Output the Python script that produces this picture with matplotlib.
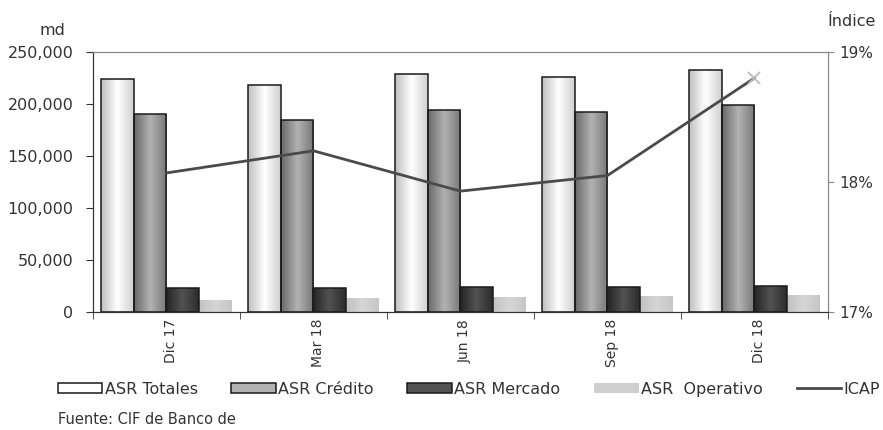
import numpy as np
import matplotlib
matplotlib.use("Agg")
import matplotlib.pyplot as plt
from matplotlib.colors import LinearSegmentedColormap
from matplotlib.ticker import FuncFormatter, FixedLocator
from matplotlib.patches import Patch
from matplotlib.lines import Line2D

plt.rcParams["font.family"] = ["DejaVu Sans"]

# Activos sujetos a riesgo (md) e ICAP por trimestre
periodos = ["Dic 17", "Mar 18", "Jun 18", "Sep 18", "Dic 18"]
asr_totales = [224000, 218000, 229000, 226000, 233000]
asr_credito = [190000, 185000, 194000, 192000, 199000]
asr_mercado = [23000, 23000, 24000, 24000, 25000]
asr_operativo = [12000, 13000, 14000, 15000, 16000]
icap = [18.07, 18.24, 17.93, 18.05, 18.80]

series = [
    ("ASR Totales", asr_totales, ["#c0c0c0", "#ffffff", "#d0d0d0"], "#1a1a1a"),
    ("ASR Crédito", asr_credito, ["#6a6a6a", "#b2b2b2", "#787878"], "#1a1a1a"),
    ("ASR Mercado", asr_mercado, ["#242424", "#525252", "#2c2c2c"], "#1a1a1a"),
    ("ASR  Operativo", asr_operativo, ["#c2c2c2", "#d6d6d6", "#c6c6c6"], "none"),
]

fig = plt.figure(figsize=(8.83, 4.30), dpi=100)
ax = fig.add_axes([0.1053, 0.2744, 0.8324, 0.6046])
ax2 = ax.twinx()

x = np.arange(len(periodos))
w = 0.224
grad = np.linspace(0, 1, 64).reshape(1, -1)

# barras con degradado horizontal recortado a cada rectángulo
for k, (name, vals, cols, edge) in enumerate(series):
    cmap = LinearSegmentedColormap.from_list(name, cols)
    bars = ax.bar(x + (k - 1.5) * w, vals, w, color=cols[1],
                  edgecolor=edge, linewidth=1.1, zorder=3)
    for b in bars:
        x0, y0 = b.get_x(), b.get_y()
        im = ax.imshow(grad, cmap=cmap, aspect="auto", zorder=2.5,
                       extent=(x0, x0 + b.get_width(), y0, y0 + b.get_height()))
        im.set_clip_path(b)
        b.set_facecolor("none")

ax.set_xlim(-0.5, len(periodos) - 0.5)
ax.set_ylim(0, 250000)
ax.set_yticks(np.arange(0, 250001, 50000))
ax.yaxis.set_major_formatter(FuncFormatter(lambda v, p: f"{int(v):,}"))
ax.set_xticks(x + 0.03)
ax.set_xticklabels(periodos, rotation=90, fontsize=10, color="#333333")
ax.xaxis.set_minor_locator(FixedLocator(np.arange(-0.5, len(periodos), 1.0)))
ax.tick_params(axis="x", which="major", length=0, pad=5)
ax.tick_params(axis="x", which="minor", length=5, color="#333333")
ax.tick_params(axis="y", labelsize=11.5, labelcolor="#333333", length=5,
               color="#333333", pad=9)

# ICAP en eje derecho
ax2.plot(x, icap, color="#4a4a4a", linewidth=2.0, zorder=5)
ax2.plot(x[-1:], icap[-1:], linestyle="none", marker="x", markersize=8,
         color="#bdbdbd", markeredgewidth=1.3, zorder=6)
ax2.set_ylim(17, 19)
ax2.set_yticks([17, 18, 19])
ax2.yaxis.set_major_formatter(FuncFormatter(lambda v, p: f"{int(v)}%"))
ax2.tick_params(axis="y", labelsize=11, labelcolor="#333333", length=4,
                color="#888888", pad=4)
ax.set_zorder(1)
ax2.set_zorder(2)
ax2.patch.set_visible(False)

for a in (ax, ax2):
    a.spines["top"].set_color("#888888")
    a.spines["right"].set_color("#888888")
    a.spines["left"].set_color("#333333")
    a.spines["bottom"].set_color("#333333")

fig.text(0.074, 0.918, "md", ha="right", fontsize=11.5, color="#333333")
fig.text(0.965, 0.94, "Índice", ha="center", fontsize=11.5, color="#333333")

handles = [Patch(facecolor=c[1], edgecolor=("#1a1a1a" if e != "none" else "none"),
                 linewidth=1.1) for _, _, c, e in series]
handles[3] = Patch(facecolor="#cfcfcf", edgecolor="none")
handles.append(Line2D([0], [0], color="#4a4a4a", linewidth=2.0))
labels = [s[0] for s in series] + ["ICAP"]
fig.legend(handles, labels, loc="center", bbox_to_anchor=(0.531, 0.095), ncol=5,
           frameon=False, fontsize=11.5, handlelength=2.8, handleheight=0.6,
           handletextpad=0.15, columnspacing=2.1, labelcolor="#333333")

fig.text(0.066, 0.015, "Fuente: CIF de Banco de", fontsize=10.5, color="#333333")

fig.savefig("out.png", dpi=100)
